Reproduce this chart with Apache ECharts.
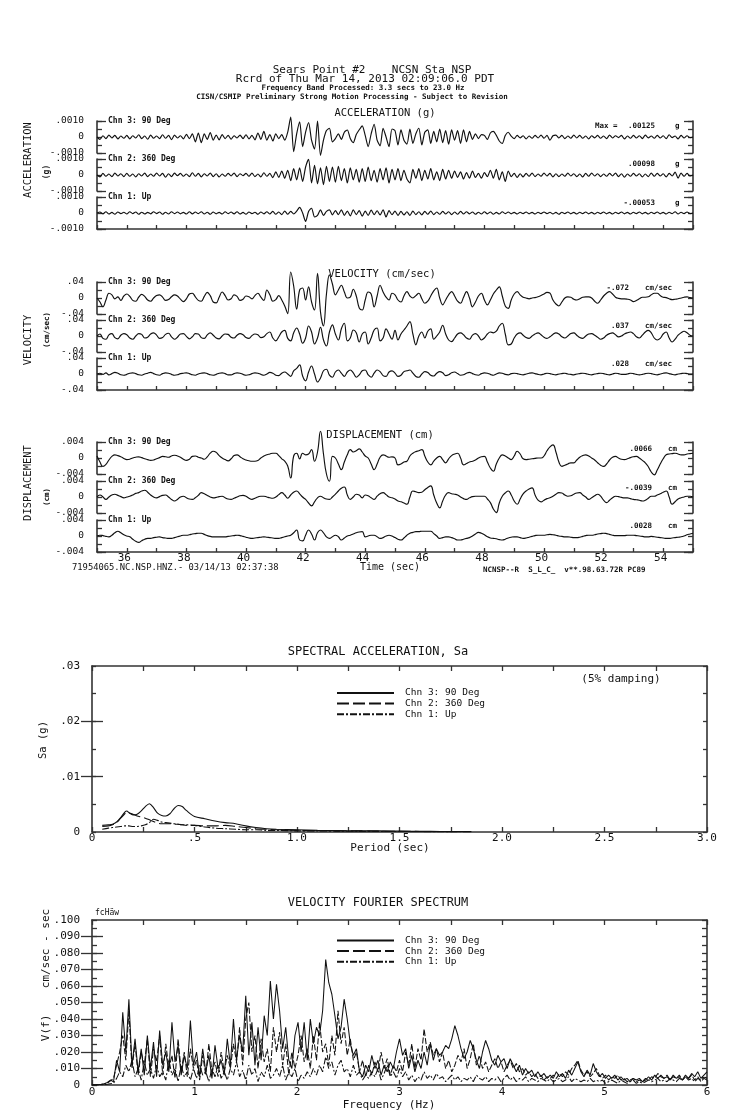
<!DOCTYPE html>
<html><head><meta charset="utf-8">
<script src="https://cdn.jsdelivr.net/npm/echarts@6/dist/echarts.min.js"></script>
<style>html,body{margin:0;padding:0;background:#fff}#c{width:739px;height:1115px}</style>
</head><body><div id="c"></div>
<script>
const FONT = "'DejaVu Sans Mono', monospace";
const AX = '#333', INK = '#111';
// time histories: t = 35.0 .. 55.0 s, step 0.1 s
const T0 = 35, DT = 0.1;
const ACC_UNIT = 1e-5, VEL_UNIT = 1e-3, DISP_UNIT = 1e-4;
const timeLabels = [36, 38, 40, 42, 44, 46, 48, 50, 52, 54];

const acc90 = [
0,-15,8,-10,12,-6,10,-12,6,-8, 10,-12,8,-6,14,-10,6,-14,12,-8, 6,-10,14,-8,10,-16,12,-6,8,-12,
16,-10,20,-30,25,-35,20,-15,28,-20, 12,-18,15,-10,10,-14,8,-6,12,-10, 14,-12,10,-18,25,-15,35,-20,15,-25,
20,-10,15,-20,30,125,-92,20,95,-60, 30,90,-20,-75,100,-115,-20,40,55,-30, -10,20,-15,30,44,-10,-35,15,45,70,
10,-60,20,80,-20,-55,55,0,-60,50, 40,-50,45,-20,-45,50,-40,20,55,-50, 30,45,-40,35,-30,50,-35,40,-45,45,
-20,40,-40,45,-30,35,-15,20,-10,15, 10,-15,25,35,10,-25,-40,10,30,5, -10,10,-5,8,-12,6,-8,10,-6,12,
-8,10,-20,8,12,-6,10,-10,6,-8, 12,-6,10,-8,6,-12,8,-5,10,-8, 6,-10,12,-6,8,-4,10,-12,6,-8,
10,-6,8,-10,12,-5,6,-8,10,-6, 8,-10,14,-4,6,-12,10,-6,8,-4, 0];
const acc360 = [
0,-12,10,-8,6,-10,12,-6,8,-10, 10,-8,6,-12,8,-6,12,-10,6,-8, 12,-6,10,-14,8,-10,12,-4,10,-8,
6,-10,14,-8,10,-12,8,-6,12,-10, 8,-12,6,-8,10,-6,12,-10,8,-4, 10,-8,12,-10,6,-12,14,-8,10,-16,
20,-15,25,-20,30,-35,40,-30,45,-40, 50,98,-50,60,-55,45,-60,55,-40,50, -45,55,-35,40,-50,45,-30,35,-45,40,
-40,50,-35,30,-45,40,-30,45,-50,35, -30,40,-35,30,-25,-50,35,-20,40,-35, 30,-25,40,-30,20,-35,35,-25,30,-20,
25,-15,20,-25,15,-20,25,-15,10,-20, 15,-10,30,-20,35,-30,20,-40,25,-10, 10,-15,8,-12,10,-8,12,-10,6,-8,
12,-6,10,-12,8,-10,6,-8,12,-6, 8,-10,6,-12,10,-8,12,-6,8,-10, 6,-8,10,-6,12,-10,8,-14,6,-8,
10,-6,8,-12,6,-10,12,-8,10,-6, 8,-12,10,-6,18,-20,12,-8,10,-6, 0];
const accUp = [
0,6,-5,8,-6,4,-8,6,-4,5, -6,8,-4,6,-8,5,-6,4,-5,8, -4,6,-8,5,-6,8,-4,6,-5,4,
-6,8,-5,6,-4,8,-6,5,-8,6, -5,4,-6,8,-4,6,-5,8,-6,4, -8,6,-4,5,-8,6,-5,8,-6,10,
-8,6,-10,12,-8,10,-6,12,35,0, -53,10,30,-25,-15,20,-15,10,20,-12, 15,-10,20,-15,12,-18,20,-10,15,-20,
12,-15,18,-10,14,-12,20,-25,15,-10, 12,-15,10,-12,8,-15,12,-10,8,-12, 10,-8,12,-10,6,-8,10,-6,8,-10,
6,-8,10,-6,8,-5,6,-8,5,-6, 8,-5,6,-8,4,-6,8,-4,6,-5, 4,-6,5,-4,6,-5,4,-6,5,-4,
6,-4,5,-6,4,-8,5,-4,6,-5, 4,-6,5,-4,6,-5,4,-6,5,-4, 6,-5,4,-6,5,-4,6,-5,4,-6,
5,-4,6,-5,4,-6,5,-4,6,-5, 4,-6,5,-4,8,-6,5,-4,6,-4, 0];

const vel90 = [
0,-10,-22,-5,12,8,-2,3,-6,5, 10,4,-6,-8,2,9,4,-5,-8,0, 6,8,2,-6,-4,3,8,5,-3,-9,
-2,10,12,3,-6,-8,4,14,6,-10, -12,2,15,6,-5,-2,8,4,-6,-3, 5,3,-2,6,12,2,-6,20,8,-8,
-4,6,-5,-20,-39,65,30,-28,20,25, -5,28,-10,-30,62,-35,-70,10,58,35, 8,20,32,15,0,2,22,5,-25,-30,
-5,15,10,-22,5,32,15,2,-5,12, 8,-5,-10,5,16,5,0,6,12,-2, -13,-8,5,18,25,0,-17,-5,8,16,
5,-8,-13,2,16,0,-22,-10,5,12, -5,-17,-5,10,20,28,5,-20,-26,-5, 10,16,8,2,0,-2,0,1,3,6,
10,14,12,-5,-15,-20,-10,0,3,2, -3,-5,-2,2,3,3,0,-8,-13,-5, 5,12,16,10,2,-1,-2,-2,-3,-5,
-9,-6,-2,2,2,3,8,12,12,6, 2,1,-2,-4,-3,-2,0,2,3,1, 0];
const vel360 = [
0,5,-6,-8,3,6,-4,-7,2,6, 3,-5,-8,0,6,4,-5,-3,5,8, 2,-6,-4,4,7,-2,-8,-3,5,6,
-1,-7,-2,6,5,-4,-6,3,8,2, -5,-7,0,5,4,-3,-5,2,6,3, -4,-6,1,5,3,-4,-2,6,10,-5,
-12,-2,10,14,-6,-12,8,20,5,-18, -5,25,10,-20,-5,22,-10,-25,10,28, 5,-10,18,32,-12,-5,15,8,-15,5,
10,-20,-5,15,20,-12,-5,18,5,-8, 14,-10,5,15,25,36,5,-22,0,10, -5,12,18,-8,0,10,27,5,-10,-14,
-5,5,8,3,-5,-8,2,6,0,-10, -5,5,10,8,12,25,32,5,-22,-20, -5,5,8,2,-4,-6,0,5,8,3,
-3,-6,-2,4,8,5,-2,-5,0,6, 8,2,-4,-6,0,5,6,2,-3,-8, -5,2,6,8,3,-2,0,5,8,10,
6,-2,-5,2,10,14,8,-5,-10,-6, 5,10,-5,-15,-8,2,8,12,8,2, 0];
const velUp = [
0,2,-1,3,-2,1,4,2,-2,-3, -1,2,3,1,-2,-3,0,2,4,1, -2,-3,1,3,2,-1,-3,-2,1,2,
3,1,-2,-3,0,2,3,1,-2,-3, -1,2,3,1,-2,-2,1,3,2,-1, -3,-2,1,3,2,-1,-3,0,4,2,
-3,-4,2,5,0,-6,8,14,23,-5, -17,5,20,0,-20,-10,8,12,-3,-8, 5,10,2,-6,5,10,3,-8,-2,8,
10,-2,-8,2,10,6,-4,-6,5,8, 2,-6,-3,6,8,10,2,-6,-8,0, 6,4,-3,-5,2,6,3,-4,-2,3,
5,1,-3,-2,2,4,1,-2,-3,1, 3,2,-1,-3,0,3,2,-1,-2,1, 2,1,-1,-2,0,2,3,1,-1,-2,
0,2,1,-1,-2,0,1,2,0,-1, -2,0,1,2,1,-1,-2,0,1,2, 1,-1,-2,0,2,1,-1,-1,0,2,
1,-1,-2,-1,1,2,1,-1,-2,0, 2,3,1,-1,-2,0,1,2,1,0, 0];

const disp90 = [
5,-10,-21,-16,-5,4,8,6,3,-1, -4,-3,0,2,3,1,-2,-4,-6,-5, -2,1,4,3,2,5,7,5,2,-3,
-6,-3,4,5,2,0,-3,3,12,17, 14,6,0,-4,-7,-2,6,8,3,-2, -5,-7,-8,-8,-6,0,5,8,10,12,
12,6,-2,-8,-20,-50,5,12,-2,12, 8,10,21,-8,15,67,10,-40,-58,4, 0,-15,-29,-10,8,21,15,18,23,15,
5,0,-15,-29,-15,2,8,5,2,3, 0,-17,-15,-10,-8,5,12,16,18,21, 5,-10,-17,-8,0,4,-4,-12,-2,6,
10,12,0,-17,-14,-10,-8,-5,0,3, 4,-10,-25,-33,-15,0,8,5,0,-4, 5,17,10,-2,-4,-3,-2,-1,0,0,
5,18,28,33,15,-10,-21,-18,-15,-12, -12,-5,2,6,8,5,0,-5,-12,-18, -21,-15,-5,2,4,0,-3,-4,-2,1,
3,4,0,-6,-12,-22,-35,-42,-30,-15, -2,8,10,11,12,10,8,8,10,11, 12];
const disp360 = [
0,5,0,-6,0,5,7,4,1,-2, 0,2,5,9,11,15,17,12,5,0, -2,1,4,5,0,-6,-10,-6,0,2,
-2,-5,-6,-2,4,11,8,4,0,-2, -1,1,2,-2,-5,-6,-3,0,3,4, 2,-3,-6,-3,0,2,2,0,-2,-3,
0,6,11,5,-3,5,12,15,8,0, -6,-15,-22,-12,-2,2,-2,-5,-6,0, 7,15,22,25,5,-6,0,7,5,-2,
5,3,-2,-6,2,8,11,6,0,-2, -5,-10,-12,-15,-18,0,15,13,11,12, 18,24,28,5,-15,-27,-10,5,11,8,
7,5,0,-4,-6,-2,1,2,2,2, 2,-5,-14,-30,-39,-15,2,10,15,5, -10,-18,-5,8,15,20,23,5,-8,-12,
-8,-4,-2,2,7,11,10,5,2,3, 7,10,11,5,0,-6,-2,3,7,2, -8,-14,-8,-2,2,1,-1,-2,-2,-4,
-6,-7,-8,-10,-8,-3,2,2,5,8, 12,15,0,-18,-12,-5,-2,0,2,2, 0];
const dispUp = [
0,2,1,-1,-2,2,8,12,8,3, 0,-2,-8,-13,-16,-12,-8,-6,-6,-4, -3,-2,-4,-5,-6,-6,-4,-2,0,2,
2,3,5,6,7,7,4,1,-1,-2, -2,-2,-2,-2,-1,0,1,2,1,-1, -3,-5,-6,-5,-4,-3,-2,-3,-4,-5,
-6,-6,-4,-2,0,2,8,15,-10,-12, 2,15,5,-10,8,15,8,-2,-6,-2, 2,-2,-10,-5,0,2,5,8,10,11,
-2,0,2,2,-2,-6,-4,0,2,0, -4,-8,-10,-5,2,7,9,11,11,12, 12,12,12,6,0,-6,-4,-2,-2,-4,
-7,-10,-10,-8,-6,-4,0,5,9,7, 3,-2,-5,-6,-7,-9,-10,-8,-5,-3, -2,-2,-4,-6,-5,-3,-1,1,2,2,
2,3,4,3,2,0,-1,-2,-2,-3, -4,-4,-3,-1,1,2,2,3,5,6, 7,6,4,2,1,1,1,1,2,2,
2,1,0,-1,-2,-2,-1,-2,-3,-4, -5,-6,-6,-5,-4,-3,-2,0,3,5, 7];

// spectral acceleration (5% damping), Sa in 1e-4 g
const SA_UNIT = 1e-4;
const saPeriod = [0.05,0.08,0.1,0.12,0.14,0.16,0.17,0.18,0.2,0.22,0.24,0.26,0.28,0.3,0.32,0.34,0.36,0.38,0.4,0.42,
0.44,0.46,0.5,0.55,0.6,0.65,0.7,0.75,0.8,0.85,0.9,1.0,1.1,1.2,1.3,1.4,1.5,1.6,1.7,1.85];
const sa90 = [12,13,14,18,26,36,38,35,31,32, 38,46,51,44,34,30,29,33,42,48, 46,39,28,24,20,17,15,11,8,6, 5,4,3,2.5,2,2,1.5,1.2,1,0.8];
const sa360 = [10,11,13,17,25,33,36,35,32,29, 27,25,22,19,16,15,15,15,14,14, 13,12,12,11,11,12,10,8,6,5, 4,3,2.5,2,2,1.5,1.2,1,0.8,0.6];
const saUp = [5,7,8,9,10,11,11,11,10,10, 11,13,17,23,21,18,17,16,15,14, 13,13,12,9,7,6,5,4,4,3, 3,2,2,1.5,1.2,1,1,0.8,0.6,0.5];

// velocity Fourier spectrum, f = 0 .. 6 Hz step 0.03, in 1e-3 cm/sec-sec
const FS_UNIT = 1e-3, FS_DF = 0.03;
const fs90 = [
0,0,0.2,0.4,0.8,1.5,3,2,15,8, 44,20,52,12,28,8,22,6,30,10, 26,5,33,12,20,8,38,14,24,6,
18,10,39,12,20,5,22,8,18,4, 24,10,15,6,28,12,40,15,30,20, 54,18,38,12,35,15,42,30,63,40,
61,45,22,35,15,10,30,38,20,38, 15,40,25,35,30,45,76,62,55,42, 28,35,52,40,25,18,22,8,5,12,
8,18,10,15,6,12,8,14,10,20, 28,18,22,10,18,8,15,10,20,12, 25,15,22,18,20,24,22,28,36,30,
22,16,20,27,22,15,10,20,27,22, 15,12,18,14,16,10,16,12,8,12, 6,10,7,9,5,8,5,7,4,6,
4,8,5,7,4,9,6,10,14,8, 5,9,6,13,8,5,7,4,6,4, 6,3,5,3,4,2,4,3,4,2,
3,5,3,6,4,6,4,5,3,6, 4,5,3,6,4,7,5,8,4,6, 8];
const fs360 = [
0,0,0.1,0.3,0.6,1.2,2.5,4,12,20, 30,15,45,10,25,6,20,12,28,5, 22,14,30,6,25,10,18,4,28,8,
20,5,22,10,15,3,18,6,25,8, 14,5,20,8,18,10,25,14,35,12, 40,50,20,30,10,28,14,22,8,35,
20,32,12,25,6,20,10,18,30,14, 22,10,30,15,38,20,25,12,30,18, 45,25,35,18,28,15,20,8,15,5,
12,6,14,8,20,10,16,6,12,8, 15,8,20,12,25,10,22,15,34,20, 26,18,22,14,20,10,15,8,12,18,
14,22,10,16,25,12,18,10,14,8, 12,16,10,14,8,12,15,10,13,8, 10,6,8,5,7,4,6,3,5,4,
6,4,7,5,8,6,10,12,15,9, 6,8,5,7,10,6,4,6,3,5, 4,6,3,4,2,3,4,2,3,2,
4,3,5,4,7,5,4,6,3,5, 4,6,3,5,4,6,3,5,2,4, 3];
const fsUp = [
0,0,0,0.1,0.2,0.4,0.8,1,4,8, 5,12,8,15,5,10,3,14,6,10, 4,12,5,8,3,15,6,10,2,12,
5,8,3,10,4,12,6,8,2,10, 5,12,4,8,3,10,6,14,5,9, 3,12,6,10,2,8,5,12,4,6,
10,5,12,3,8,5,10,2,6,4, 8,5,10,6,12,8,17,10,14,6, 12,15,8,10,5,12,6,8,3,6,
4,8,5,10,3,7,12,5,8,4, 10,5,8,3,6,2,5,3,8,4, 6,3,7,4,5,2,4,6,3,5,
2,4,3,5,2,6,4,3,5,2, 4,3,5,2,4,6,3,5,2,4, 3,5,2,4,3,2,4,3,2,4,
2,3,4,2,3,5,2,4,3,2, 3,2,4,2,3,2,3,1,2,3, 2,1,3,2,1,2,3,1,2,1,
2,3,2,3,4,2,3,2,4,3, 2,4,3,5,3,4,2,4,3,5, 4];

const chNames = ['Chn 3: 90 Deg', 'Chn 2: 360 Deg', 'Chn 1: Up'];
const dashes = ['solid', [12, 4], [7, 2, 2, 2]];

const panels = [
  {d: acc90, u: ACC_UNIT, R: 0.001, top: 121, lab: ['.0010', '-.0010'], sm: 0.25},
  {d: acc360, u: ACC_UNIT, R: 0.001, top: 159, lab: ['.0010', '-.0010'], sm: 0.25},
  {d: accUp, u: ACC_UNIT, R: 0.001, top: 197, lab: ['.0010', '-.0010'], sm: 0.25},
  {d: vel90, u: VEL_UNIT, R: 0.04, top: 282, lab: ['.04', '-.04'], sm: 0.4},
  {d: vel360, u: VEL_UNIT, R: 0.04, top: 320, lab: ['.04', '-.04'], sm: 0.4},
  {d: velUp, u: VEL_UNIT, R: 0.04, top: 358, lab: ['.04', '-.04'], sm: 0.4},
  {d: disp90, u: DISP_UNIT, R: 0.004, top: 442, lab: ['.004', '-.004'], sm: 0.5},
  {d: disp360, u: DISP_UNIT, R: 0.004, top: 481, lab: ['.004', '-.004'], sm: 0.5},
  {d: dispUp, u: DISP_UNIT, R: 0.004, top: 520, lab: ['.004', '-.004'], sm: 0.5}
];

const axLine = {show: true, onZero: false, lineStyle: {color: AX, width: 1.6}};
const tickStyle = {color: AX, width: 1.3};
const lblStyle = {fontFamily: FONT, fontSize: 9.5, color: INK};
const grid = [], xAxis = [], yAxis = [], series = [];

function yPair(gi, min, max, interval, shortLen, longVals, longLen, labelCfg) {
  const base = {type: 'value', gridIndex: gi, min, max, splitLine: {show: false}};
  ['left', 'right'].forEach(pos => {
    yAxis.push(Object.assign({}, base, {position: pos, interval,
      axisLine: axLine, axisTick: {show: true, inside: true, length: shortLen, lineStyle: tickStyle},
      axisLabel: (pos === 'left' && labelCfg) ? labelCfg : {show: false}}));
    yAxis.push(Object.assign({}, base, {position: pos,
      axisLine: {show: false}, axisTick: {show: true, inside: true, length: longLen, customValues: longVals, lineStyle: tickStyle},
      axisLabel: {show: false}}));
  });
}

panels.forEach((p, i) => {
  grid.push({left: 97, right: 46, top: p.top, height: 32, outerBoundsMode: 'none'});
  const isBottom = i % 3 === 2;
  xAxis.push({type: 'value', gridIndex: i, min: 35, max: 55, interval: 1, show: isBottom,
    axisLine: axLine, axisTick: {show: true, inside: true, length: 4, lineStyle: tickStyle},
    axisLabel: {show: i === 8, customValues: timeLabels, margin: 1, fontFamily: FONT, fontSize: 11, color: INK, padding: [0, 5, 0, 0]},
    splitLine: {show: false}});
  const R = p.R;
  yPair(i, -R, R, R / 2, 5, [-R, R], 9, Object.assign({customValues: [-R, 0, R], margin: 13,
    formatter: v => Math.abs(v) < R / 100 ? '0' : (v > 0 ? p.lab[0] : p.lab[1])}, lblStyle));
  series.push({type: 'line', xAxisIndex: i, yAxisIndex: yAxis.length - 4,
    data: p.d.map((v, k) => [T0 + k * DT, v * p.u]),
    symbol: 'none', smooth: p.sm, clip: false, silent: true,
    itemStyle: {color: INK}, lineStyle: {color: INK, width: 1.15}});
});

// Spectral acceleration grid (index 9)
grid.push({left: 92, right: 32, top: 666, height: 166, outerBoundsMode: 'none'});
const big = {fontFamily: FONT, fontSize: 11, color: INK};
xAxis.push({type: 'value', gridIndex: 9, min: 0, max: 3, interval: 0.25, position: 'bottom',
  axisLine: axLine, axisTick: {inside: true, length: 5, lineStyle: tickStyle},
  axisLabel: Object.assign({customValues: [0, 0.5, 1, 1.5, 2, 2.5, 3], margin: 1,
    formatter: v => v === 0 ? '0' : (v < 1 ? '.5' : v.toFixed(1))}, big),
  splitLine: {show: false}});
xAxis.push({type: 'value', gridIndex: 9, min: 0, max: 3, interval: 0.25, position: 'top',
  axisLine: axLine, axisTick: {inside: true, length: 5, lineStyle: tickStyle}, axisLabel: {show: false}, splitLine: {show: false}});
const saY0 = yAxis.length;
yPair(9, 0, 0.03, 0.005, 4, [0.01, 0.02], 11, Object.assign({customValues: [0, 0.01, 0.02, 0.03], margin: 12,
  formatter: v => v < 1e-6 ? '0' : '.0' + Math.round(v * 100)}, big));
[sa90, sa360, saUp].forEach((arr, c) => series.push({type: 'line', name: chNames[c], xAxisIndex: 9, yAxisIndex: saY0,
  data: arr.map((v, k) => [saPeriod[k], v * SA_UNIT]), symbol: 'none', smooth: 0.3, silent: true,
  itemStyle: {color: INK}, lineStyle: {color: INK, width: 1.1, type: dashes[c]}}));

// Fourier spectrum grid (index 10)
grid.push({left: 92, right: 32, top: 920, height: 165, outerBoundsMode: 'none'});
const fsX = xAxis.length;
xAxis.push({type: 'value', gridIndex: 10, min: 0, max: 6, interval: 0.5, position: 'bottom',
  axisLine: axLine, axisTick: {inside: true, length: 5, lineStyle: tickStyle},
  axisLabel: Object.assign({customValues: [0, 1, 2, 3, 4, 5, 6], margin: 2}, big), splitLine: {show: false}});
xAxis.push({type: 'value', gridIndex: 10, min: 0, max: 6, interval: 0.5, position: 'top',
  axisLine: axLine, axisTick: {inside: true, length: 5, lineStyle: tickStyle}, axisLabel: {show: false}, splitLine: {show: false}});
const fsY0 = yAxis.length;
yPair(10, 0, 0.1, 0.005, 5, [0.01, 0.02, 0.03, 0.04, 0.05, 0.06, 0.07, 0.08, 0.09], 11,
  Object.assign({customValues: [0, 0.01, 0.02, 0.03, 0.04, 0.05, 0.06, 0.07, 0.08, 0.09, 0.1], margin: 12,
    formatter: v => v < 1e-6 ? '0' : '.' + String(Math.round(v * 1000)).padStart(3, '0')}, big));
[fs90, fs360, fsUp].forEach((arr, c) => series.push({type: 'line', name: chNames[c], xAxisIndex: fsX, yAxisIndex: fsY0,
  data: arr.map((v, k) => [k * FS_DF, v * FS_UNIT]), symbol: 'none', silent: true,
  itemStyle: {color: INK}, lineStyle: {color: INK, width: 1.05, type: c === 1 ? [6, 2] : dashes[c]}}));

const legendBase = {data: chNames, orient: 'vertical', itemWidth: 57, itemHeight: 7, itemGap: 0.6, selectedMode: false,
  padding: 0, itemStyle: {opacity: 0},
  textStyle: {fontFamily: FONT, fontSize: 9.5, lineHeight: 7.5, color: INK, padding: [0, 0, 0, 6]}};
const legend = [Object.assign({left: 336, top: 688}, legendBase), Object.assign({left: 336, top: 935.5}, legendBase)];

// free texts
const T = (x, y, text, size, opt = {}) => ({type: 'text', x, y, rotation: opt.rot ? Math.PI / 2 : 0, silent: true,
  style: {text, fontFamily: FONT, fontSize: size, fontWeight: opt.bold ? 'bold' : 'normal', fill: INK,
    align: opt.align || 'center', verticalAlign: 'middle'}});
const texts = [
  T(372, 70, 'Sears Point #2    NCSN Sta NSP', 11),
  T(365, 79, 'Rcrd of Thu Mar 14, 2013 02:09:06.0 PDT', 11),
  T(363, 88.5, 'Frequency Band Processed: 3.3 secs to 23.0 Hz', 7.5, {bold: 1}),
  T(352, 97.5, 'CISN/CSMIP Preliminary Strong Motion Processing - Subject to Revision', 7.5, {bold: 1}),
  T(385, 113, 'ACCELERATION (g)', 10.5),
  T(382, 274, 'VELOCITY (cm/sec)', 10.5),
  T(380, 435, 'DISPLACEMENT (cm)', 10.5),
  T(28, 160, 'ACCELERATION', 10.5, {rot: 1}),
  T(47, 172, '(g)', 8, {rot: 1, bold: 1}),
  T(28, 340, 'VELOCITY', 10.5, {rot: 1}),
  T(47, 330, '(cm/sec)', 7.5, {rot: 1, bold: 1}),
  T(28, 483, 'DISPLACEMENT', 10.5, {rot: 1}),
  T(47, 497, '(cm)', 7.5, {rot: 1, bold: 1}),
  T(595, 126, 'Max =', 7.5, {bold: 1, align: 'left'}),
  T(655, 126, '.00125', 7.5, {bold: 1, align: 'right'}), T(675, 126, 'g', 7.5, {bold: 1, align: 'left'}),
  T(655, 164, '.00098', 7.5, {bold: 1, align: 'right'}), T(675, 164, 'g', 7.5, {bold: 1, align: 'left'}),
  T(655, 203, '-.00053', 7.5, {bold: 1, align: 'right'}), T(675, 203, 'g', 7.5, {bold: 1, align: 'left'}),
  T(629, 288, '-.072', 7.5, {bold: 1, align: 'right'}), T(645, 288, 'cm/sec', 7.5, {bold: 1, align: 'left'}),
  T(629, 326, '.037', 7.5, {bold: 1, align: 'right'}), T(645, 326, 'cm/sec', 7.5, {bold: 1, align: 'left'}),
  T(629, 364, '.028', 7.5, {bold: 1, align: 'right'}), T(645, 364, 'cm/sec', 7.5, {bold: 1, align: 'left'}),
  T(652, 449, '.0066', 7.5, {bold: 1, align: 'right'}), T(668, 449, 'cm', 7.5, {bold: 1, align: 'left'}),
  T(652, 488, '-.0039', 7.5, {bold: 1, align: 'right'}), T(668, 488, 'cm', 7.5, {bold: 1, align: 'left'}),
  T(652, 526, '.0028', 7.5, {bold: 1, align: 'right'}), T(668, 526, 'cm', 7.5, {bold: 1, align: 'left'}),
  T(72, 568, '71954065.NC.NSP.HNZ.- 03/14/13 02:37:38', 8.8, {align: 'left'}),
  T(390, 567, 'Time (sec)', 10),
  T(483, 570, 'NCNSP--R  S_L_C_  v**.98.63.72R PC89', 7.5, {bold: 1, align: 'left'}),
  T(378, 652, 'SPECTRAL ACCELERATION, Sa', 12),
  T(390, 848, 'Period (sec)', 11),
  T(43, 740, 'Sa (g)', 10.5, {rot: 1}),
  T(621, 679, '(5% damping)', 11),
  T(378, 903, 'VELOCITY FOURIER SPECTRUM', 12),
  T(389, 1105, 'Frequency (Hz)', 11),
  T(46, 975, 'V(f)    cm/sec - sec', 11, {rot: 1}),
  T(95, 913, 'fcHäw', 8, {align: 'left'})
];
['Chn 3: 90 Deg', 'Chn 2: 360 Deg', 'Chn 1: Up'].forEach((n, c) => {
  [0, 3, 6].forEach(g => texts.push(T(108, panels[g + c].top, n, 8, {bold: 1, align: 'left'})));
});

const chart = echarts.init(document.getElementById('c'), null, {renderer: 'canvas'});
chart.setOption({animation: false, backgroundColor: '#fff', grid, xAxis, yAxis, series, legend, graphic: texts});
</script></body></html>
